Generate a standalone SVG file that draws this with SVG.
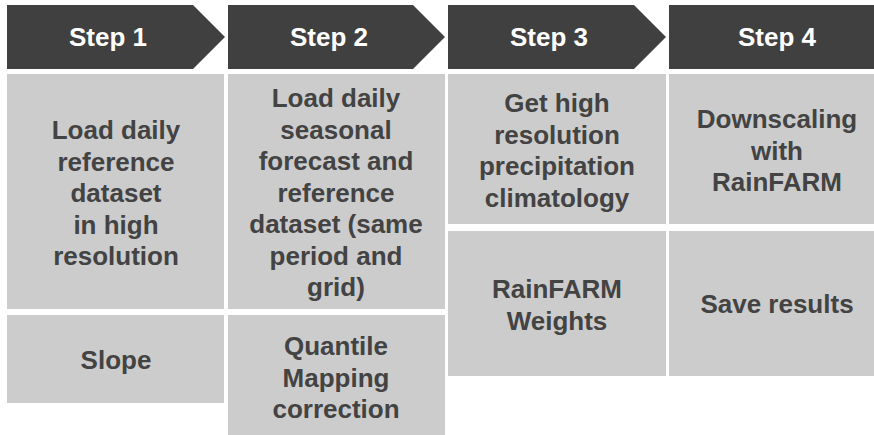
<svg xmlns="http://www.w3.org/2000/svg" width="874" height="435" viewBox="0 0 874 435">
<style>
.hd{fill:#404040}
.bx{fill:#cccccc}
.ht{fill:#ffffff;font-family:"Liberation Sans",Arial,sans-serif;font-weight:bold;font-size:26px;text-anchor:middle}
.bt{fill:#434343;font-family:"Liberation Sans",Arial,sans-serif;font-weight:bold;font-size:26px;text-anchor:middle}
</style>
<rect width="874" height="435" fill="#ffffff"/>
<g id="step1">
<polygon class="hd" points="7,5 193,5 225,37 193,69 7,69"/>
<text class="ht" x="108" y="46">Step 1</text>
</g>
<g id="step2">
<polygon class="hd" points="228,5 413,5 445,37 413,69 228,69"/>
<text class="ht" x="329" y="46">Step 2</text>
</g>
<g id="step3">
<polygon class="hd" points="448,5 634,5 666,37 634,69 448,69"/>
<text class="ht" x="549" y="46">Step 3</text>
</g>
<g id="step4">
<rect class="hd" x="669" y="5" width="205" height="64"/>
<text class="ht" x="777" y="46">Step 4</text>
</g>
<g id="s1a">
<rect class="bx" x="7" y="74" width="217" height="235"/>
<text class="bt" x="116" y="139">Load daily</text>
<text class="bt" x="116" y="170.5">reference</text>
<text class="bt" x="116" y="202">dataset</text>
<text class="bt" x="116" y="233.5">in high</text>
<text class="bt" x="116" y="265">resolution</text>
</g>
<g id="s1b">
<rect class="bx" x="7" y="315" width="217" height="88"/>
<text class="bt" x="116" y="369">Slope</text>
</g>
<g id="s2a">
<rect class="bx" x="228" y="74" width="217" height="235"/>
<text class="bt" x="336" y="107">Load daily</text>
<text class="bt" x="336" y="138.5">seasonal</text>
<text class="bt" x="336" y="170">forecast and</text>
<text class="bt" x="336" y="201.5">reference</text>
<text class="bt" x="336" y="233">dataset (same</text>
<text class="bt" x="336" y="264.5">period and</text>
<text class="bt" x="336" y="296">grid)</text>
</g>
<g id="s2b">
<rect class="bx" x="228" y="315" width="217" height="120"/>
<text class="bt" x="336" y="355">Quantile</text>
<text class="bt" x="336" y="386.5">Mapping</text>
<text class="bt" x="336" y="418">correction</text>
</g>
<g id="s3a">
<rect class="bx" x="448" y="74" width="218" height="150"/>
<text class="bt" x="557" y="112">Get high</text>
<text class="bt" x="557" y="143.5">resolution</text>
<text class="bt" x="557" y="175">precipitation</text>
<text class="bt" x="557" y="206.5">climatology</text>
</g>
<g id="s3b">
<rect class="bx" x="448" y="231" width="218" height="145"/>
<text class="bt" x="557" y="298">RainFARM</text>
<text class="bt" x="557" y="329.5">Weights</text>
</g>
<g id="s4a">
<rect class="bx" x="669" y="74" width="205" height="150"/>
<text class="bt" x="777" y="128">Downscaling</text>
<text class="bt" x="777" y="159.5">with</text>
<text class="bt" x="777" y="191">RainFARM</text>
</g>
<g id="s4b">
<rect class="bx" x="669" y="231" width="205" height="145"/>
<text class="bt" x="777" y="313">Save results</text>
</g>
<g id="connectors"></g>
</svg>
